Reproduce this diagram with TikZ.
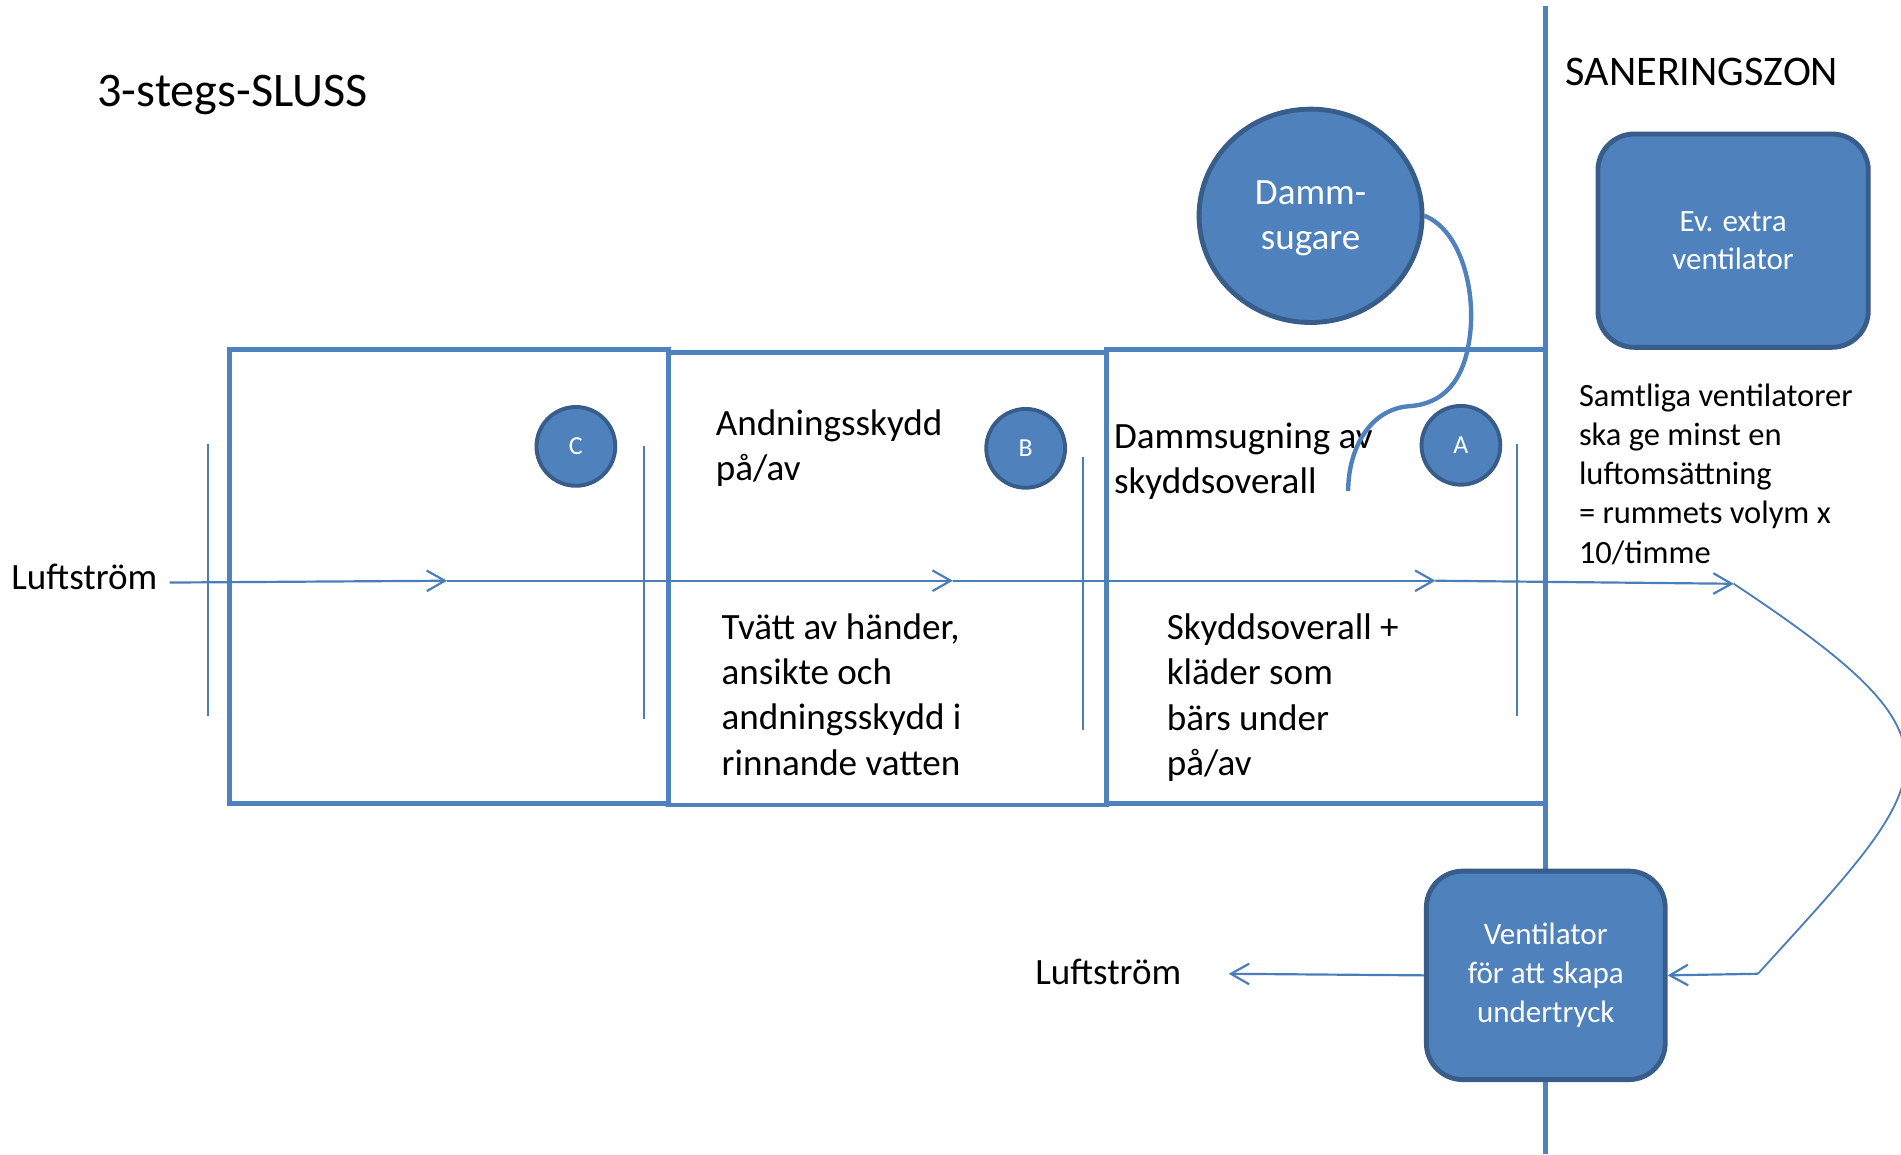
\documentclass[tikz,border=0pt]{standalone}
\usepackage{fontspec}
\setmainfont{Carlito}
\usetikzlibrary{arrows.meta,shapes.geometric}
\definecolor{accent}{HTML}{4F81BD}
\definecolor{accentdark}{HTML}{385D8A}
\definecolor{linec}{HTML}{4A7EBB}
\begin{document}
\begin{tikzpicture}[x=0.5pt,y=-0.5pt,
  room/.style={draw=accent, line width=2pt},
  door/.style={draw=linec, line width=0.7pt},
  zoneline/.style={draw=accent, line width=2pt},
  flow/.style={draw=linec, line width=0.9pt, -{Straight Barb[length=7.5pt,width=8.5pt]}},
  returncurve/.style={draw=linec, line width=0.75pt},
  hose/.style={draw=accent, line width=1.8pt},
  station/.style={circle, fill=accent, draw=accentdark, line width=1.6pt, minimum size=32.5pt, inner sep=0pt, text=white, font=\fontsize{10.7}{12}\selectfont},
  unitbox/.style={rectangle, rounded corners=15pt, fill=accent, draw=accentdark, line width=2pt, text=white, align=center, inner sep=0pt, font=\fontsize{12.8}{16}\selectfont},
  txt/.style={align=left, anchor=base west, inner sep=0pt, font=\fontsize{15.3}{18.7}\selectfont}
]
\clip (0,0) rectangle (1568,952);
\fill[white] (0,0) rectangle (1568,952);

% zone line
\coordinate (ztop) at (1275,5);
\coordinate (zbot) at (1275,952);
\draw[zoneline] (ztop) -- (zbot);

% rooms
\draw[room] (189,288.5) rectangle (551.5,662.5);
\draw[room] (551.5,290.5) rectangle (912.5,664);
\draw[room] (912.5,288.5) rectangle (1275,662.5);

% doors (thin verticals)
\draw[door] (171.5,366.5) -- (171.5,590.5);
\draw[door] (531.3,368) -- (531.3,593);
\draw[door] (893,377) -- (893,602);
\draw[door] (1251,366.5) -- (1251,590.5);

% stations
\node[station] (C) at (475,368.2) {C};
\node[station] (B) at (846,369.8) {B};
\node[station] (A) at (1205,367.3) {A};

% vacuum cleaner
\node[ellipse, fill=accent, draw=accentdark, line width=2pt, minimum width=92pt, minimum height=88pt, inner sep=0pt, text=white, align=center, text height=31pt, text depth=3pt, font=\fontsize{15.3}{18.5}\selectfont] (ds) at (1081,178) {Damm-\\sugare};

% units
\node[unitbox, minimum width=111.5pt, minimum height=88pt] (extra) at (1429.5,198.5) {Ev. extra\\ventilator};
\node[unitbox, minimum width=98.5pt, minimum height=86pt] (vent) at (1275,804.5) {Ventilator\\för att skapa\\undertryck};

% texts (anchored at the baseline of the last line)
\node[txt, font=\fontsize{19.9}{23}\selectfont] (title) at (80,88) {3-stegs-SLUSS};
\node[txt, font=\fontsize{17.4}{21}\selectfont] (zone) at (1291,70.4) {SANERINGSZON};
\node[txt] (lin) at (9,486.5) {Luftström};
\node[txt] (lout) at (853.5,812.3) {Luftström};
\node[txt, font=\fontsize{15.3}{18.5}\selectfont] (t2) at (590,396) {Andningsskydd\\på/av};
\node[txt, font=\fontsize{15.3}{18.5}\selectfont] (t3) at (918.5,407) {Dammsugning av\\skyddsoverall};
\node[txt] (t2b) at (594.8,639.4) {Tvätt av händer,\\ansikte och\\andningsskydd i\\rinnande vatten};
\node[txt] (t3b) at (962,639.8) {Skyddsoverall +\\kläder som\\bärs under\\på/av};
\node[txt, font=\fontsize{13.4}{16.1}\selectfont] (note) at (1302,464.4) {Samtliga ventilatorer\\ska ge minst en\\luftomsättning\\= rummets volym x\\10/timme};

% air flow
\coordinate (f0) at (140,480.5);
\coordinate (f1) at (368.8,479);
\coordinate (f2) at (786,479);
\coordinate (f3) at (1184,479);
\coordinate (f4) at (1430,481.5);
\coordinate (r1) at (1450,803.2);
\coordinate (o1) at (1013.5,803.2);
\draw[flow] (f0) -- (f1);
\draw[flow] (f1) -- (f2);
\draw[flow] (f2) -- (f3);
\draw[flow] (f3) -- (f4);
\draw[returncurve] (f4) .. controls (1631,615) and (1601,637) .. (r1);
\draw[flow] (r1) -- (vent.east);
\draw[flow] (vent.west) -- (o1);

% hose
\coordinate (nozzle) at (1112,405);
\draw[hose] (ds.east) .. controls (1205,190) and (1218,240) .. (1212,280)
  .. controls (1207,315) and (1190,333) .. (1163,335)
  .. controls (1130,337) and (1112,370) .. (nozzle);
\end{tikzpicture}
\end{document}
